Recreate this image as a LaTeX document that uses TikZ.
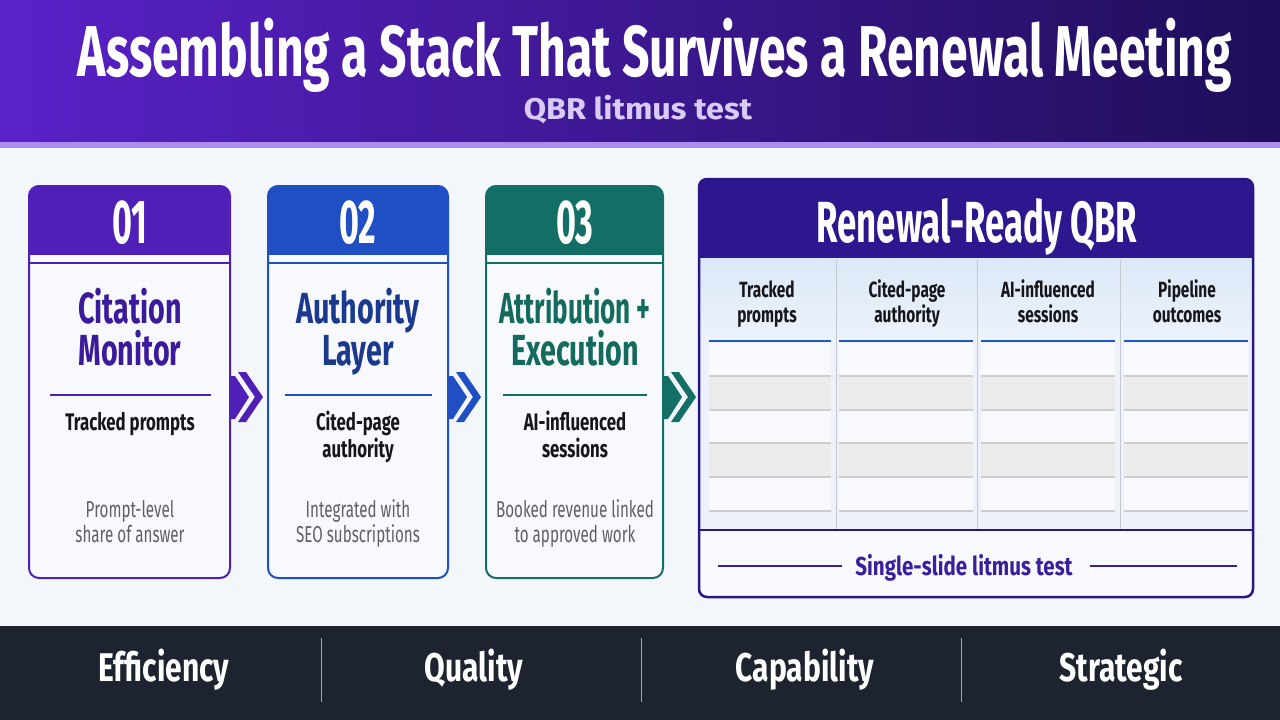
\documentclass[tikz,border=0pt]{standalone}
\usepackage{fontspec}
\setmainfont{Fira Sans}
\newfontfamily\fA[FakeStretch=0.66]{Fira Sans}
\newfontfamily\fT[FakeStretch=0.668]{Fira Sans}
\newfontfamily\fP[FakeStretch=0.60]{Fira Sans}
\newfontfamily\fN[FakeStretch=0.55]{Fira Sans}
\newfontfamily\fF[FakeStretch=0.75]{Fira Sans}
\newfontfamily\fL[FakeStretch=0.79]{Fira Sans}
\newfontfamily\fR[FakeStretch=0.70]{Fira Sans}
\newfontfamily\fG[FakeStretch=0.66]{Fira Sans}
\newfontfamily\fS[FakeStretch=1.08]{Fira Sans}
\definecolor{bgc}{HTML}{F3F6FB}
\definecolor{hdl}{HTML}{5A21C8}
\definecolor{hdr}{HTML}{1E0E58}
\definecolor{stripe}{HTML}{AC8CEF}
\definecolor{subc}{HTML}{D8CCF6}
\definecolor{foot}{HTML}{1D2430}
\definecolor{footsep}{HTML}{A0A6AE}
\definecolor{cardfill}{HTML}{F7F9FD}
\definecolor{cA}{HTML}{4F1FB8}
\definecolor{tA}{HTML}{3C1A9C}
\definecolor{cB}{HTML}{1F4FC3}
\definecolor{tB}{HTML}{1B3A8E}
\definecolor{cC}{HTML}{136F66}
\definecolor{tC}{HTML}{146B5D}
\definecolor{darktext}{HTML}{15151A}
\definecolor{graytext}{HTML}{5F6066}
\definecolor{pan}{HTML}{2B1784}
\definecolor{panhead}{HTML}{2E168F}
\definecolor{tabtop}{HTML}{DCE8F7}
\definecolor{tabbg}{HTML}{EDF2FA}
\definecolor{rowwhite}{HTML}{F8F9FC}
\definecolor{rowgray}{HTML}{EBEBEC}
\definecolor{rowline}{HTML}{CDCDD0}
\definecolor{colsep}{HTML}{C3C8D2}
\definecolor{blueline}{HTML}{2458C8}
\definecolor{littext}{HTML}{3A1E9E}
\tikzset{
  cardedge/.style={line width=2pt, rounded corners=10pt},
  numtext/.style={font=\fN\bfseries\fontsize{62}{66}\selectfont, text=white},
  headtext/.style={font=\fA\bfseries\fontsize{43.5}{48}\selectfont},
  bodytext/.style={font=\fR\bfseries\fontsize{24}{28}\selectfont, text=darktext},
  greytext/.style={font=\fG\fontsize{23}{27}\selectfont, text=graytext},
  colhead/.style={font=\fR\bfseries\fontsize{22}{26}\selectfont, text=darktext},
  foottext/.style={font=\fF\bfseries\fontsize{40}{44}\selectfont, text=white},
}
\newcommand\chevpair[2]{%
  \fill[#2] (#1+231,376) -- (#1+235,376) -- (#1+249,397) -- (#1+235,419) -- (#1+231,419) -- cycle;
  \fill[#2] (#1+238,372) -- (#1+246,372) -- (#1+263,397) -- (#1+246,422) -- (#1+238,422) -- (#1+255,397) -- cycle;}
\newcommand\cardframe[3]{%
  \begin{scope}
    \clip[rounded corners=10pt] (#1,186) rectangle (#2,578);
    \fill[cardfill] (#1,186) rectangle (#2,578);
    \fill[#3] (#1,186) rectangle (#2,255);
  \end{scope}
  \draw[#3, cardedge] (#1,186) rectangle (#2,578);
  \draw[#3, line width=1.5pt] (#1+1,263) -- (#2-1,263);}
\begin{document}
\begin{tikzpicture}[x=1pt,y=-1pt, every node/.style={inner sep=0pt, anchor=base}]
\useasboundingbox (0,0) rectangle (1280,720);
\fill[bgc] (0,0) rectangle (1280,720);
\shade[left color=hdl, right color=hdr] (0,0) rectangle (1280,142);
\fill[stripe] (0,142) rectangle (1280,148);
\fill[foot] (0,626) rectangle (1280,720);

% title
\node[font=\fT\bfseries\fontsize{72}{80}\selectfont, text=white] (title) at (655,76) {Assembling a Stack That Survives a Renewal Meeting};
\node[font=\fS\bfseries\fontsize{30}{34}\selectfont, text=subc] (subtitle) at (638,119) {QBR litmus test};

% card 1
\cardframe{29}{230}{cA}
\node[numtext] (n1) at (130,243) {01};
\node[headtext, text=tA] (h1a) at (130,323) {Citation};
\node[headtext, text=tA] (h1b) at (130,365) {Monitor};
\draw[cA, line width=1.5pt] (50,395) -- (211,395);
\node[bodytext] (b1) at (130,430) {Tracked prompts};
\node[greytext] (g1a) at (130,517) {Prompt-level};
\node[greytext] (g1b) at (130,542) {share of answer};

% card 2
\cardframe{268}{448}{cB}
\node[numtext] (n2) at (358,243) {02};
\node[headtext, text=tB] (h2a) at (358,323) {Authority};
\node[headtext, text=tB] (h2b) at (358,365) {Layer};
\draw[cB, line width=1.5pt] (285,395) -- (432,395);
\node[bodytext] (b2a) at (358,430) {Cited-page};
\node[bodytext] (b2b) at (358,457) {authority};
\node[greytext] (g2a) at (358,517) {Integrated with};
\node[greytext] (g2b) at (358,542) {SEO subscriptions};

% card 3
\cardframe{486}{663}{cC}
\node[numtext] (n3) at (575,243) {03};
\node[headtext, text=tC, font=\fP\bfseries\fontsize{43.5}{48}\selectfont] (h3a) at (575,323) {Attribution +};
\node[headtext, text=tC] (h3b) at (575,365) {Execution};
\draw[cC, line width=1.5pt] (503,395) -- (647,395);
\node[bodytext] (b3a) at (575,430) {AI-influenced};
\node[bodytext] (b3b) at (575,457) {sessions};
\node[greytext] (g3a) at (575,517) {Booked revenue linked};
\node[greytext] (g3b) at (575,542) {to approved work};

% chevrons
\chevpair{0}{cA}
\chevpair{218}{cB}
\chevpair{433}{cC}

% panel
\begin{scope}
  \clip[rounded corners=8pt] (699,179) rectangle (1253,597);
  \fill[rowwhite] (699,179) rectangle (1253,597);
  \fill[panhead] (699,179) rectangle (1253,258);
  \fill[tabbg] (699,258) rectangle (1253,530);
  \shade[top color=tabtop, bottom color=tabbg] (699,258) rectangle (1253,342);
\end{scope}
\foreach \xa/\xb in {709/831, 839/973, 981/1115, 1124/1248}{
  \fill[rowwhite] (\xa,343) rectangle (\xb,376);
  \fill[rowgray] (\xa,376) rectangle (\xb,410);
  \fill[rowwhite] (\xa,410) rectangle (\xb,443);
  \fill[rowgray] (\xa,443) rectangle (\xb,477);
  \fill[rowwhite] (\xa,477) rectangle (\xb,511);
  \foreach \yy in {376,410,443,477,511}{
    \draw[rowline, line width=1.2pt] (\xa,\yy) -- (\xb,\yy);
  }
  \draw[blueline, line width=2pt] (\xa,341) -- (\xb,341);
}
\foreach \xx in {836,977,1120}{
  \draw[colsep, line width=1pt] (\xx,260) -- (\xx,530);
}
\draw[pan, line width=2.5pt, rounded corners=8pt] (699,179) rectangle (1253,597);
\draw[pan, line width=2.5pt] (699,530) -- (1253,530);
\node[font=\fP\bfseries\fontsize{58}{62}\selectfont, text=white] (ptitle) at (977,242) {Renewal-Ready QBR};

\node[colhead] (k1a) at (767,297) {Tracked};
\node[colhead] (k1b) at (767,322) {prompts};
\node[colhead] (k2a) at (907,297) {Cited-page};
\node[colhead] (k2b) at (907,322) {authority};
\node[colhead] (k3a) at (1048,297) {AI-influenced};
\node[colhead] (k3b) at (1048,322) {sessions};
\node[colhead] (k4a) at (1187,297) {Pipeline};
\node[colhead] (k4b) at (1187,322) {outcomes};

\node[font=\fL\bfseries\fontsize{26}{30}\selectfont, text=littext] (lit) at (964,575) {Single-slide litmus test};
\draw[littext, line width=2pt] (718,566) -- (842,566);
\draw[littext, line width=2pt] (1090,566) -- (1237,566);

% footer
\node[foottext] (f1) at (164,681) {Efficiency};
\node[foottext] (f2) at (474,681) {Quality};
\node[foottext] (f3) at (805,681) {Capability};
\node[foottext] (f4) at (1121,681) {Strategic};
\foreach \xx in {321,641,961}{
  \draw[footsep, line width=1pt] (\xx,638) -- (\xx,702);
}
\end{tikzpicture}
\end{document}
